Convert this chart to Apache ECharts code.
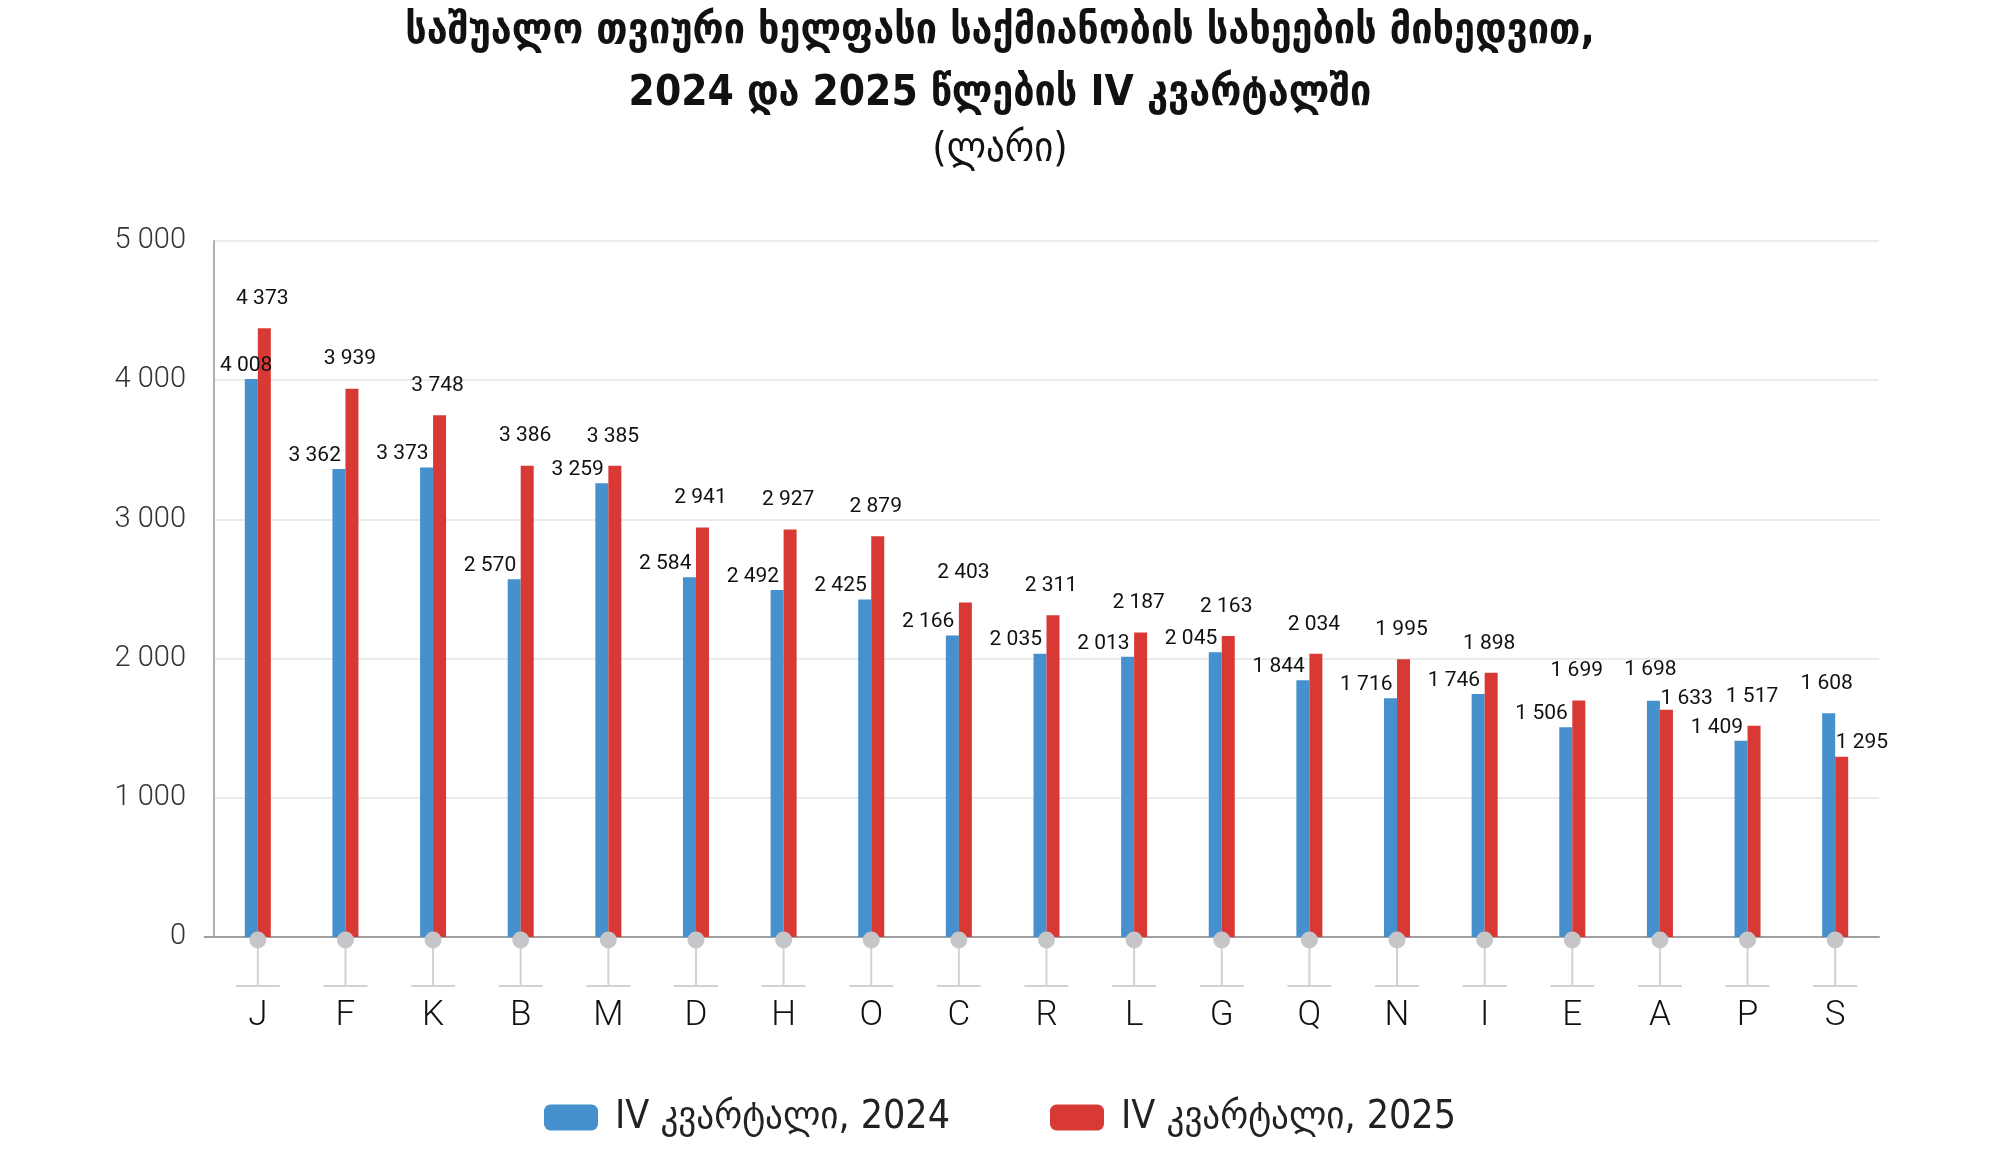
<!DOCTYPE html>
<html>
<head>
<meta charset="utf-8">
<script src="https://cdn.jsdelivr.net/npm/echarts@6/dist/echarts.min.js"></script>
<style>html,body{margin:0;padding:0;background:#fff}#c{width:2000px;height:1156px}</style>
</head>
<body>
<div id="c"></div>
<script>
const categories = ['J','F','K','B','M','D','H','O','C','R','L','G','Q','N','I','E','A','P','S'];
const q4_2024 = [4008,3362,3373,2570,3259,2584,2492,2425,2166,2035,2013,2045,1844,1716,1746,1506,1698,1409,1608];
const q4_2025 = [4373,3939,3748,3386,3385,2941,2927,2879,2403,2311,2187,2163,2034,1995,1898,1699,1633,1517,1295];
const seriesNames = ['IV კვარტალი, 2024', 'IV კვარტალი, 2025'];
const yTicks = [0, 1000, 2000, 3000, 4000, 5000];

const fmt = v => String(v).replace(/\B(?=(\d{3})+(?!\d))/g, ' ');
const LATIN = 'Roboto, "Noto Sans", sans-serif';
const GEO = '"DejaVu Sans Condensed", "DejaVu Sans", sans-serif';

// per-category label tweaks (styling only)
const blueLabelSpecial = {
  J: {align: 'right', offset: [21, 0], distance: 3},
  A: {align: 'center', offset: [-3, 0], distance: 20},
  S: {align: 'center', offset: [-2, 0], distance: 19}
};
const redLabelSpecial = {
  A: {align: 'left', offset: [-6, 0], distance: 0},
  S: {align: 'left', offset: [-6, 0], distance: 3}
};

const blueData = q4_2024.map((v, i) => {
  const s = blueLabelSpecial[categories[i]];
  return s ? {value: v, label: s} : v;
});
const redData = q4_2025.map((v, i) => {
  const s = redLabelSpecial[categories[i]];
  return s ? {value: v, label: s} : v;
});

const chart = echarts.init(document.getElementById('c'), null, {renderer: 'canvas'});
chart.setOption({
  animation: false,
  backgroundColor: '#ffffff',
  title: {
    text: 'საშუალო თვიური ხელფასი საქმიანობის სახეების მიხედვით,\n2024 და 2025 წლების IV კვარტალში',
    subtext: '(ლარი)',
    left: 'center',
    top: -4,
    itemGap: 5,
    textStyle: {fontFamily: GEO, fontWeight: 'bold', fontSize: 42, color: '#111', lineHeight: 62},
    subtextStyle: {fontFamily: GEO, fontWeight: 'normal', fontSize: 41, color: '#111'}
  },
  legend: {
    data: seriesNames,
    left: 'center',
    top: 1093,
    itemWidth: 54,
    itemHeight: 26,
    itemGap: 100,
    icon: 'roundRect',
    textStyle: {fontFamily: GEO, fontSize: 39, color: '#222', padding: [0, 0, 0, 12]}
  },
  grid: {left: 214, right: 121, top: 241, bottom: 219, containLabel: false},
  xAxis: {
    type: 'category',
    data: categories,
    axisLine: {lineStyle: {color: '#a0a0a0', width: 2}},
    axisTick: {show: false},
    axisLabel: {fontFamily: LATIN, fontSize: 35, fontWeight: 300, color: '#111', margin: 62}
  },
  yAxis: {
    type: 'value',
    min: 0, max: 5000, interval: 1000,
    axisLine: {show: true, lineStyle: {color: '#b0b0b0', width: 2}},
    axisTick: {show: false},
    splitLine: {lineStyle: {color: '#e4e4e4', width: 1.5}},
    axisLabel: {
      fontFamily: LATIN, fontSize: 29, fontWeight: 300, color: '#333', margin: 28,
      formatter: v => yTicks.includes(v) ? fmt(v) : ''
    }
  },
  series: [
    {
      name: seriesNames[0], type: 'bar', data: blueData,
      barWidth: 13, barGap: '0%',
      itemStyle: {color: '#4590CD'},
      label: {show: true, position: 'top', align: 'right', offset: [2, 0], distance: 3,
        fontFamily: LATIN, fontSize: 21, color: '#111', formatter: p => fmt(p.value)}
    },
    {
      name: seriesNames[1], type: 'bar', data: redData,
      barWidth: 13, barGap: '0%',
      itemStyle: {color: '#D93934'},
      label: {show: true, position: 'top', align: 'center', offset: [-2, 0], distance: 19,
        fontFamily: LATIN, fontSize: 21, color: '#111', formatter: p => fmt(p.value)}
    },
    {
      type: 'custom', z: 10, silent: true, clip: false,
      data: categories.map((c, i) => [i, 0]),
      encode: {x: 0, y: 1},
      renderItem: (params, api) => {
        const p = api.coord([api.value(0), 0]);
        const x = p[0], y = p[1];
        const children = [
          {type: 'line', shape: {x1: x, y1: y + 4, x2: x, y2: y + 49}, style: {stroke: '#d2d2d2', lineWidth: 2}},
          {type: 'line', shape: {x1: x - 22, y1: y + 49, x2: x + 22, y2: y + 49}, style: {stroke: '#d2d2d2', lineWidth: 2}},
          {type: 'circle', shape: {cx: x, cy: y + 3, r: 8.5}, style: {fill: '#c6c6c8'}}
        ];
        if (params.dataIndex === 0) {
          children.push({type: 'line', shape: {x1: x - 54, y1: y, x2: x - 43, y2: y}, style: {stroke: '#a0a0a0', lineWidth: 2}});
        }
        return {type: 'group', children};
      }
    }
  ]
});
</script>
</body>
</html>
